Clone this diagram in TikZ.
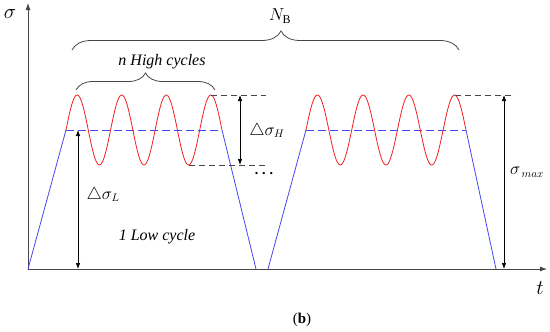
\documentclass[tikz,border=0pt]{standalone}
\usepackage{fontspec}
\setmainfont{Liberation Serif}
\usepackage{amsmath, amssymb}
\usepackage{tikz}
\usetikzlibrary{arrows.meta, positioning, decorations.pathreplacing}
\usepackage{xcolor}
\definecolor{loadred}{RGB}{240, 30, 30}
\definecolor{loadblue}{RGB}{70, 70, 240}
\definecolor{loadgray}{RGB}{70, 70, 70}

\begin{document}
\begin{tikzpicture}[x=1pt, y=-1pt,
        axis/.style={-{Latex[length=7pt,width=5pt]}, line width=0.8pt, loadgray},
        ramp/.style={loadblue, line width=0.8pt},
        wave/.style={loadred, line width=0.8pt},
        meanline/.style={loadblue, dash pattern=on 8pt off 4pt, line width=0.8pt},
        guide/.style={loadgray, dash pattern=on 6pt off 4pt, line width=0.7pt},
        dimarr/.style={{Latex[length=6pt,width=4.5pt]}-{Latex[length=6pt,width=4.5pt]}, line width=0.7pt, black},
        brc/.style={decorate, decoration={brace, amplitude=#1, aspect=0.5}, loadgray, line width=0.8pt},
        brc/.default=18pt,
        lbl/.style={font=\fontsize{16}{18}\selectfont\itshape}
      ]
        \useasboundingbox (0,0) rectangle (550,332);

        % axes
        \coordinate (O) at (28,269);
        \coordinate (ytip) at (28,3);
        \coordinate (xtip) at (547,269);
        \draw[axis] (O) -- (ytip);
        \draw[axis] (O) -- (xtip);
        \node[font=\fontsize{22}{24}\selectfont] (sigmalbl) at (10,14) {$\sigma$};
        \node[font=\fontsize{20}{22}\selectfont] (tlbl) at (540,288) {$t$};

        % first block
        \coordinate (a1) at (66,130);
        \coordinate (a2) at (222,130);
        \coordinate (b1) at (256,269);
        \draw[ramp] (O) -- (a1);
        \draw[meanline] (a1) -- (a2);
        \draw[ramp] (a2) -- (b1);
        \draw[wave] plot[domain=0:3.5, samples=160, smooth] ({66+44.57*\x}, {130-35*sin(360*\x)});

        % second block
        \coordinate (b2) at (268,269);
        \coordinate (c1) at (306,130);
        \coordinate (c2) at (466,130);
        \coordinate (d1) at (496,269);
        \draw[ramp] (b2) -- (c1);
        \draw[meanline] (c1) -- (c2);
        \draw[ramp] (c2) -- (d1);
        \draw[wave] plot[domain=0:3.5, samples=160, smooth] ({306+45.71*\x}, {130-35*sin(360*\x)});

        % high cycle range
        \coordinate (pk) at (211,95);
        \coordinate (tr) at (189,165);
        \coordinate (pkend) at (266,95);
        \coordinate (trend) at (266,165);
        \draw[guide] (pk) -- (pkend);
        \draw[guide] (tr) -- (trend);
        \coordinate (hup) at (240,95);
        \coordinate (hdn) at (240,165);
        \draw[dimarr] (hup) -- (hdn);
        \node[font=\fontsize{16}{18}\selectfont] (dsh) at (267,131) {$\triangle\sigma_H$};

        % low cycle range
        \coordinate (lup) at (78,130);
        \coordinate (ldn) at (78,269);
        \draw[dimarr] (lup) -- (ldn);
        \node[font=\fontsize{16}{18}\selectfont] (dsl) at (103,195) {$\triangle\sigma_L$};

        % maximum
        \coordinate (mk) at (455,95);
        \coordinate (mkend) at (515,95);
        \draw[guide] (mk) -- (mkend);
        \coordinate (mup) at (504,95);
        \coordinate (mdn) at (504,269);
        \draw[dimarr] (mup) -- (mdn);
        \node[font=\fontsize{16}{18}\selectfont] (smax) at (527,172) {$\sigma_{\,max}$};

        \node[font=\bfseries\fontsize{14}{16}\selectfont] (dots) at (264,174) {.\hspace{4pt}.\hspace{4pt}.};

        % braces
        \coordinate (nbl) at (72,50);
        \coordinate (nbr) at (459,50);
        \draw[brc={19pt}, decoration={aspect=0.54}] (nbl) -- (nbr);
        \node[font=\fontsize{17}{19}\selectfont] (nblbl) at (280,16) {$N_{\mathrm{B}}$};
        \coordinate (hbl) at (76,90);
        \coordinate (hbr) at (215,90);
        \draw[brc={17pt}] (hbl) -- (hbr);
        \node[lbl] (highlbl) at (162,62) {n High cycles};

        \node[lbl] (lowlbl) at (157,237) {1 Low cycle};

        \node[font=\fontsize{15}{17}\selectfont] (caption) at (302,320) {(\textbf{b})};
      \end{tikzpicture}
\end{document}
